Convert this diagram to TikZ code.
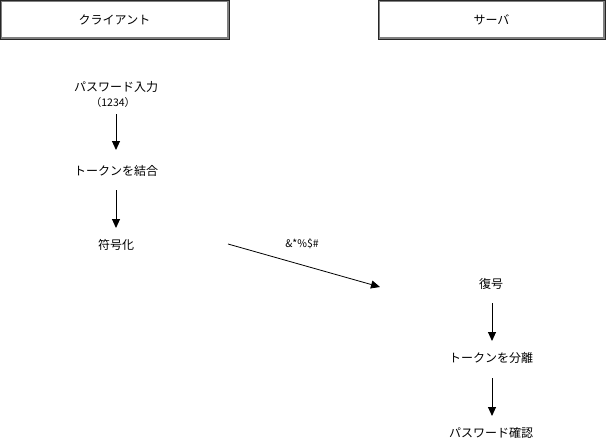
\documentclass[tikz,border=0pt]{standalone}
\usepackage{fontspec}
\newfontfamily\jp{Noto Sans CJK JP}
\usetikzlibrary{arrows.meta}
\begin{document}
\begin{tikzpicture}[x=1pt,y=-1pt,
  lbl/.style={font=\jp\fontsize{12}{14}\selectfont, inner sep=0pt},
  small/.style={font=\jp\fontsize{10.5}{12}\selectfont, inner sep=0pt},
  flow/.style={-{Triangle[length=9pt,width=8pt]}, line width=1pt, black},
  hdr/.style={draw=black!50, line width=2pt, fill=white, minimum width=227pt, minimum height=37pt, inner sep=0pt, font=\jp\fontsize{12}{14}\selectfont}]
\useasboundingbox (0,0) rectangle (607,444);
\node[hdr] (client) at (114.5,19.5) {クライアント};
\draw[black!85, line width=0.8pt] (client.north west) rectangle (client.south east);
\node[hdr, minimum width=225pt] (server) at (491.5,19.5) {サーバ};
\draw[black!85, line width=0.8pt] (server.north west) rectangle (server.south east);

\node[lbl] (pw) at (116,87) {パスワード入力};
\node[small] (num) at (113,103) {（1234）};
\node[lbl] (join) at (116,171) {トークンを結合};
\node[lbl] (enc) at (116,245) {符号化};
\coordinate (a1s) at (116,114); \coordinate (a1e) at (116,150);
\coordinate (a2s) at (116,190); \coordinate (a2e) at (116,228);
\draw[flow] (a1s) -- (a1e);
\draw[flow] (a2s) -- (a2e);

\coordinate (ds) at (228,244); \coordinate (de) at (380,287);
\draw[flow, line width=0.8pt] (ds) -- (de);
\node[small] (cipher) at (302,244) {\&*\%\$\#};

\node[lbl] (dec) at (491,284) {復号};
\node[lbl] (split) at (491,358) {トークンを分離};
\node[lbl] (check) at (491,433) {パスワード確認};
\coordinate (b1s) at (492,303); \coordinate (b1e) at (492,341);
\coordinate (b2s) at (492,378); \coordinate (b2e) at (492,416);
\draw[flow] (b1s) -- (b1e);
\draw[flow] (b2s) -- (b2e);
\end{tikzpicture}
\end{document}
